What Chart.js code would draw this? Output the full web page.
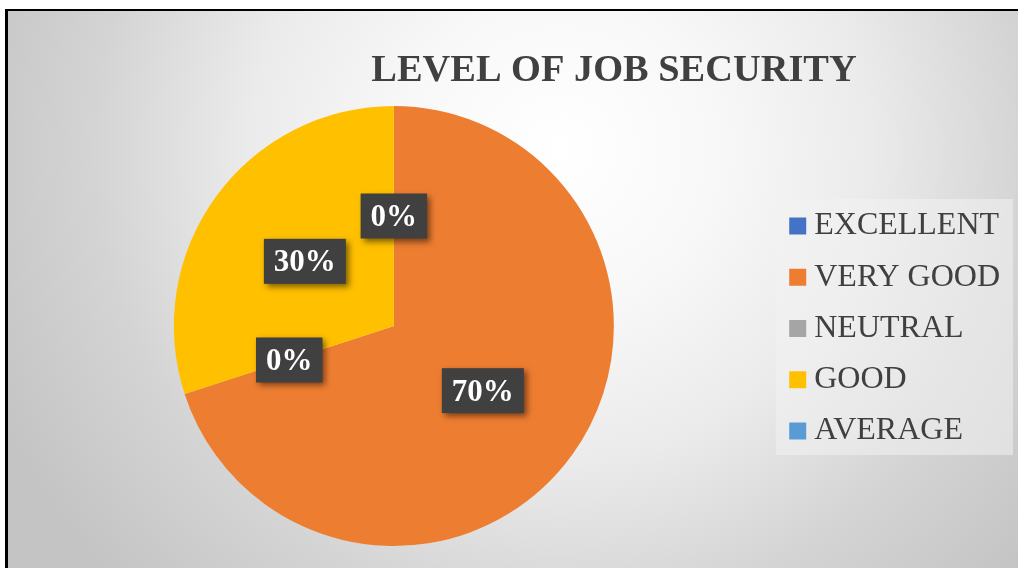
<!DOCTYPE html>
<html>
<head>
<meta charset="utf-8">
<script src="https://cdn.jsdelivr.net/npm/chart.js@4.4.1/dist/chart.umd.min.js"></script>
<style>
  html, body { margin: 0; padding: 0; background: #fff; }
  canvas { display: block; }
</style>
</head>
<body>
<canvas id="pie" width="1018" height="568"></canvas>
<script>
const titleText = "LEVEL OF JOB SECURITY";
const categories = ["EXCELLENT", "VERY GOOD", "NEUTRAL", "GOOD", "AVERAGE"];
const shares = [0, 70, 0, 30, 0];
const sliceColors = ["#4472C4", "#ED7D31", "#A5A5A5", "#FFC000", "#5B9BD5"];

const serif = '"Liberation Serif", "Times New Roman", serif';
const textGrey = "#404040";

// background, frame, title and the light legend panel
const backdrop = {
    id: "backdrop",
    beforeDraw(chart) {
        const {ctx, width, height} = chart;
        ctx.save();
        ctx.fillStyle = "#fff";
        ctx.fillRect(0, 0, width, height);
        const g = ctx.createRadialGradient(560, 150, 0, 560, 150, 620);
        g.addColorStop(0, "#ffffff");
        g.addColorStop(0.25, "#f8f8f8");
        g.addColorStop(0.5, "#ebebeb");
        g.addColorStop(0.75, "#d4d4d4");
        g.addColorStop(1, "#c4c4c4");
        ctx.fillStyle = g;
        ctx.fillRect(8, 11, width - 8, height - 11);
        ctx.fillStyle = "#000";
        ctx.fillRect(5, 9, width - 5, 2);
        ctx.fillRect(5, 9, 3, height - 9);

        const hb = chart.legend.legendHitBoxes;
        if (hb && hb.length) {
            const first = hb[0], last = hb[hb.length - 1];
            const top = first.top - 11;
            const bottom = last.top + last.height + 8;
            const left = first.left - 21.5;
            ctx.fillStyle = "rgba(242,242,242,0.55)";
            ctx.fillRect(left, top, 1013 - left, bottom - top);
        }

        ctx.fillStyle = textGrey;
        ctx.font = "bold 38.4px " + serif;
        ctx.textAlign = "center";
        ctx.textBaseline = "alphabetic";
        ctx.fillText(titleText, 614, 81);
        ctx.restore();
    }
};

// dark percentage boxes in the middle of each slice
const sliceLabels = {
    id: "sliceLabels",
    afterDatasetsDraw(chart) {
        const ctx = chart.ctx;
        const meta = chart.getDatasetMeta(0);
        const data = chart.data.datasets[0].data;
        const total = data.reduce((a, b) => a + b, 0);
        const done = [];
        ctx.save();
        ctx.font = "bold 31px " + serif;
        ctx.textAlign = "center";
        ctx.textBaseline = "middle";
        meta.data.forEach((arc, i) => {
            const p = arc.getCenterPoint();
            if (done.some(q => Math.abs(q.x - p.x) < 1 && Math.abs(q.y - p.y) < 1)) return;
            done.push(p);
            const txt = Math.round(data[i] / total * 100) + "%";
            const w = ctx.measureText(txt).width + 20, h = 45;
            ctx.shadowColor = "rgba(0,0,0,0.5)";
            ctx.shadowBlur = 6;
            ctx.shadowOffsetX = 3;
            ctx.shadowOffsetY = 3;
            ctx.fillStyle = "#404040";
            ctx.fillRect(p.x - w / 2, p.y - h / 2, w, h);
            ctx.shadowColor = "transparent";
            ctx.fillStyle = "#fff";
            ctx.fillText(txt, p.x, p.y + 2);
        });
        ctx.restore();
    }
};

new Chart("pie", {
    type: "pie",
    data: {
        labels: categories,
        datasets: [{
            data: shares,
            backgroundColor: sliceColors,
            borderWidth: 0,
            offset: 0,
            hoverOffset: 0
        }]
    },
    plugins: [backdrop, sliceLabels],
    options: {
        responsive: false,
        animation: false,
        events: [],
        layout: {
            padding: {top: 106, bottom: 22, left: 9.75, right: 8}
        },
        plugins: {
            title: {display: false},
            tooltip: {enabled: false},
            legend: {
                position: "right",
                title: {display: true, text: " ", font: {size: 1, lineHeight: 1}, padding: 2},
                labels: {
                    font: {family: serif, size: 32},
                    color: textGrey,
                    boxWidth: 1,
                    boxHeight: 1,
                    padding: 19.25,
                    generateLabels(chart) {
                        const items = Chart.overrides.pie.plugins.legend.labels.generateLabels(chart);
                        items.forEach(it => {
                            it.lineWidth = 16;
                            it.strokeStyle = it.fillStyle;
                            it.fontColor = textGrey;
                        });
                        return items;
                    }
                }
            }
        }
    }
});
</script>
</body>
</html>
